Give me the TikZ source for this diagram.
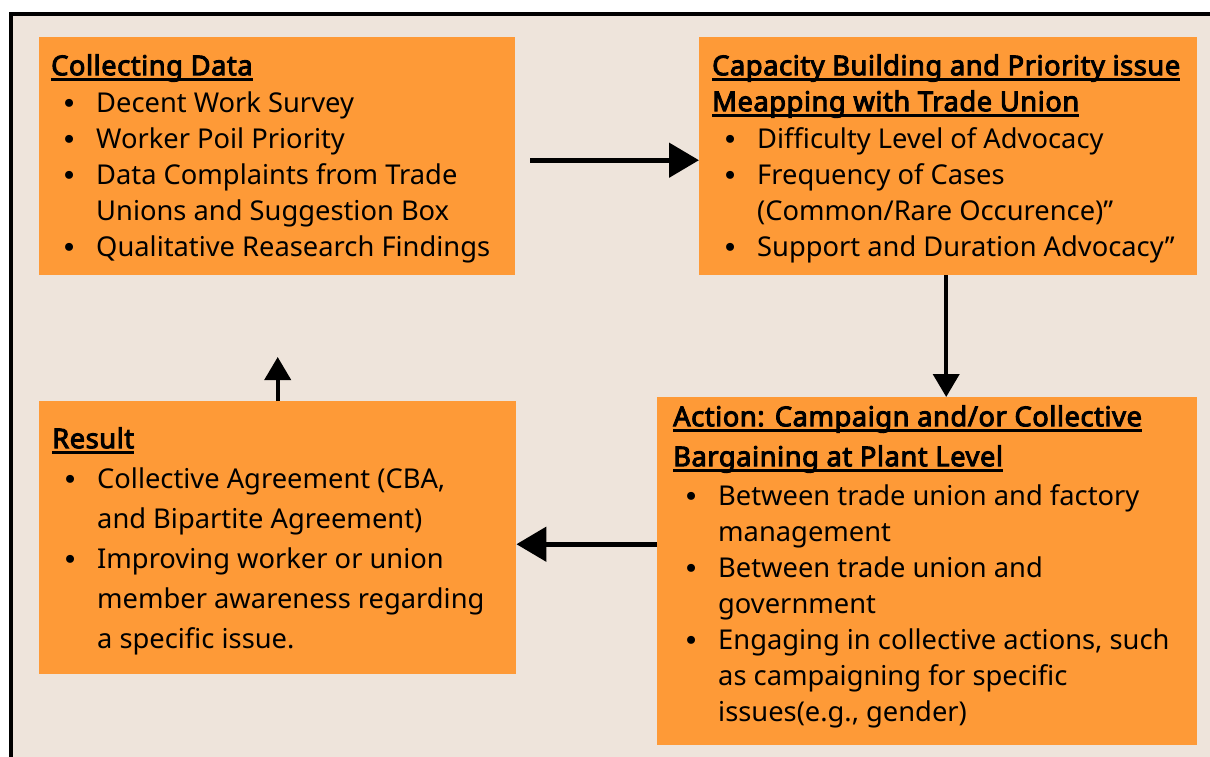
\documentclass[tikz,border=0pt]{standalone}
\usepackage{fontspec}
\setmainfont{Noto Sans}[AutoFakeBold=3.5]
\newfontfamily\bulletfont{DejaVu Sans}
\usetikzlibrary{arrows.meta}
\definecolor{boxorange}{HTML}{FE9A37}
\definecolor{bgbeige}{HTML}{EEE4DB}
\newsavebox\ttlbox
\newcommand\bdot{\makebox[0pt]{\raisebox{-1pt}{\bulletfont •}}}
\newcommand\bitem[1]{\makebox[45pt][l]{\hspace{18pt}\bdot}#1}
\newcommand\bcont[1]{\makebox[45pt][l]{}#1}
\newcommand\ttl[1]{\sbox\ttlbox{\bfseries\addfontfeature{LetterSpace=2}#1}\rlap{\rule[-5.6pt]{\wd\ttlbox}{2.4pt}}\usebox\ttlbox}
\begin{document}
\begin{tikzpicture}[x=1pt,y=-1pt,
  box/.style={fill=boxorange, draw=none, anchor=north west, inner sep=0pt},
  txt/.style={anchor=north west, inner sep=0pt, align=left, font=\fontsize{27.3}{36}\selectfont},
  arrbig/.style={-{Triangle[length=30pt,width=34pt]}, line width=5pt},
  arrsmall/.style={-{Triangle[length=23pt,width=26pt]}, line width=4pt}]
\useasboundingbox (0,0) rectangle (1210,756);
\clip (0,0) rectangle (1210,756);
\fill[white] (0,0) rectangle (1210,756);
\draw[fill=bgbeige, line width=4pt] (11,14) rectangle (1240,790);
% boxes
\node[box, minimum width=476pt, minimum height=238pt] (b1) at (39,37) {};
\node[box, minimum width=498pt, minimum height=238pt] (b2) at (699,37) {};
\node[box, minimum width=540pt, minimum height=348pt] (b3) at (657,397) {};
\node[box, minimum width=477pt, minimum height=273pt] (b4) at (39,401) {};
% texts
\node[txt] (t1) at (51,51) {\rule{0pt}{24pt}\ttl{Collecting Data}\\[1pt]
\bitem{Decent Work Survey}\\
\bitem{Worker Poil Priority}\\
\bitem{Data Complaints from Trade}\\
\bcont{Unions and Suggestion Box}\\
\bitem{Qualitative Reasearch Findings}};
\node[txt] (t2) at (712,51) {\rule{0pt}{24pt}\ttl{Capacity Building and Priority issue}\\
\ttl{Meapping with Trade Union}\\[1pt]
\bitem{Difficulty Level of Advocacy}\\
\bitem{Frequency of Cases}\\
\bcont{(Common/Rare Occurence)”}\\
\bitem{Support and Duration Advocacy”}};
\node[txt] (t3) at (673,402) {\rule{0pt}{24pt}\ttl{Action: Campaign and/or Collective}\\[4pt]
\ttl{Bargaining at Plant Level}\\[3pt]
\bitem{Between trade union and factory}\\
\bcont{management}\\
\bitem{Between trade union and}\\
\bcont{government}\\
\bitem{Engaging in collective actions, such}\\
\bcont{as campaigning for specific}\\
\bcont{issues(e.g., gender)}};
\node[txt, font=\fontsize{27.3}{40}\selectfont] (t4) at (52,424) {\rule{0pt}{24pt}\ttl{Result}\\
\bitem{Collective Agreement (CBA,}\\
\bcont{and Bipartite Agreement)}\\
\bitem{Improving worker or union}\\
\bcont{member awareness regarding}\\
\bcont{a specific issue.}};
% arrows
\draw[arrbig] ([xshift=15pt,yshift=-4pt]b1.east) -- ([yshift=-4pt]b2.west);
\draw[arrsmall] ([xshift=-2pt]b2.south) -- ([xshift=-2pt]b2.south |- b3.north);
\coordinate (upend) at ([yshift=44pt]b4.north);
\draw[arrsmall] (b4.north) -- (upend);
\draw[arrbig] ([yshift=27pt]b3.west) -- ([yshift=27pt]b3.west -| b4.east);
\end{tikzpicture}
\end{document}
